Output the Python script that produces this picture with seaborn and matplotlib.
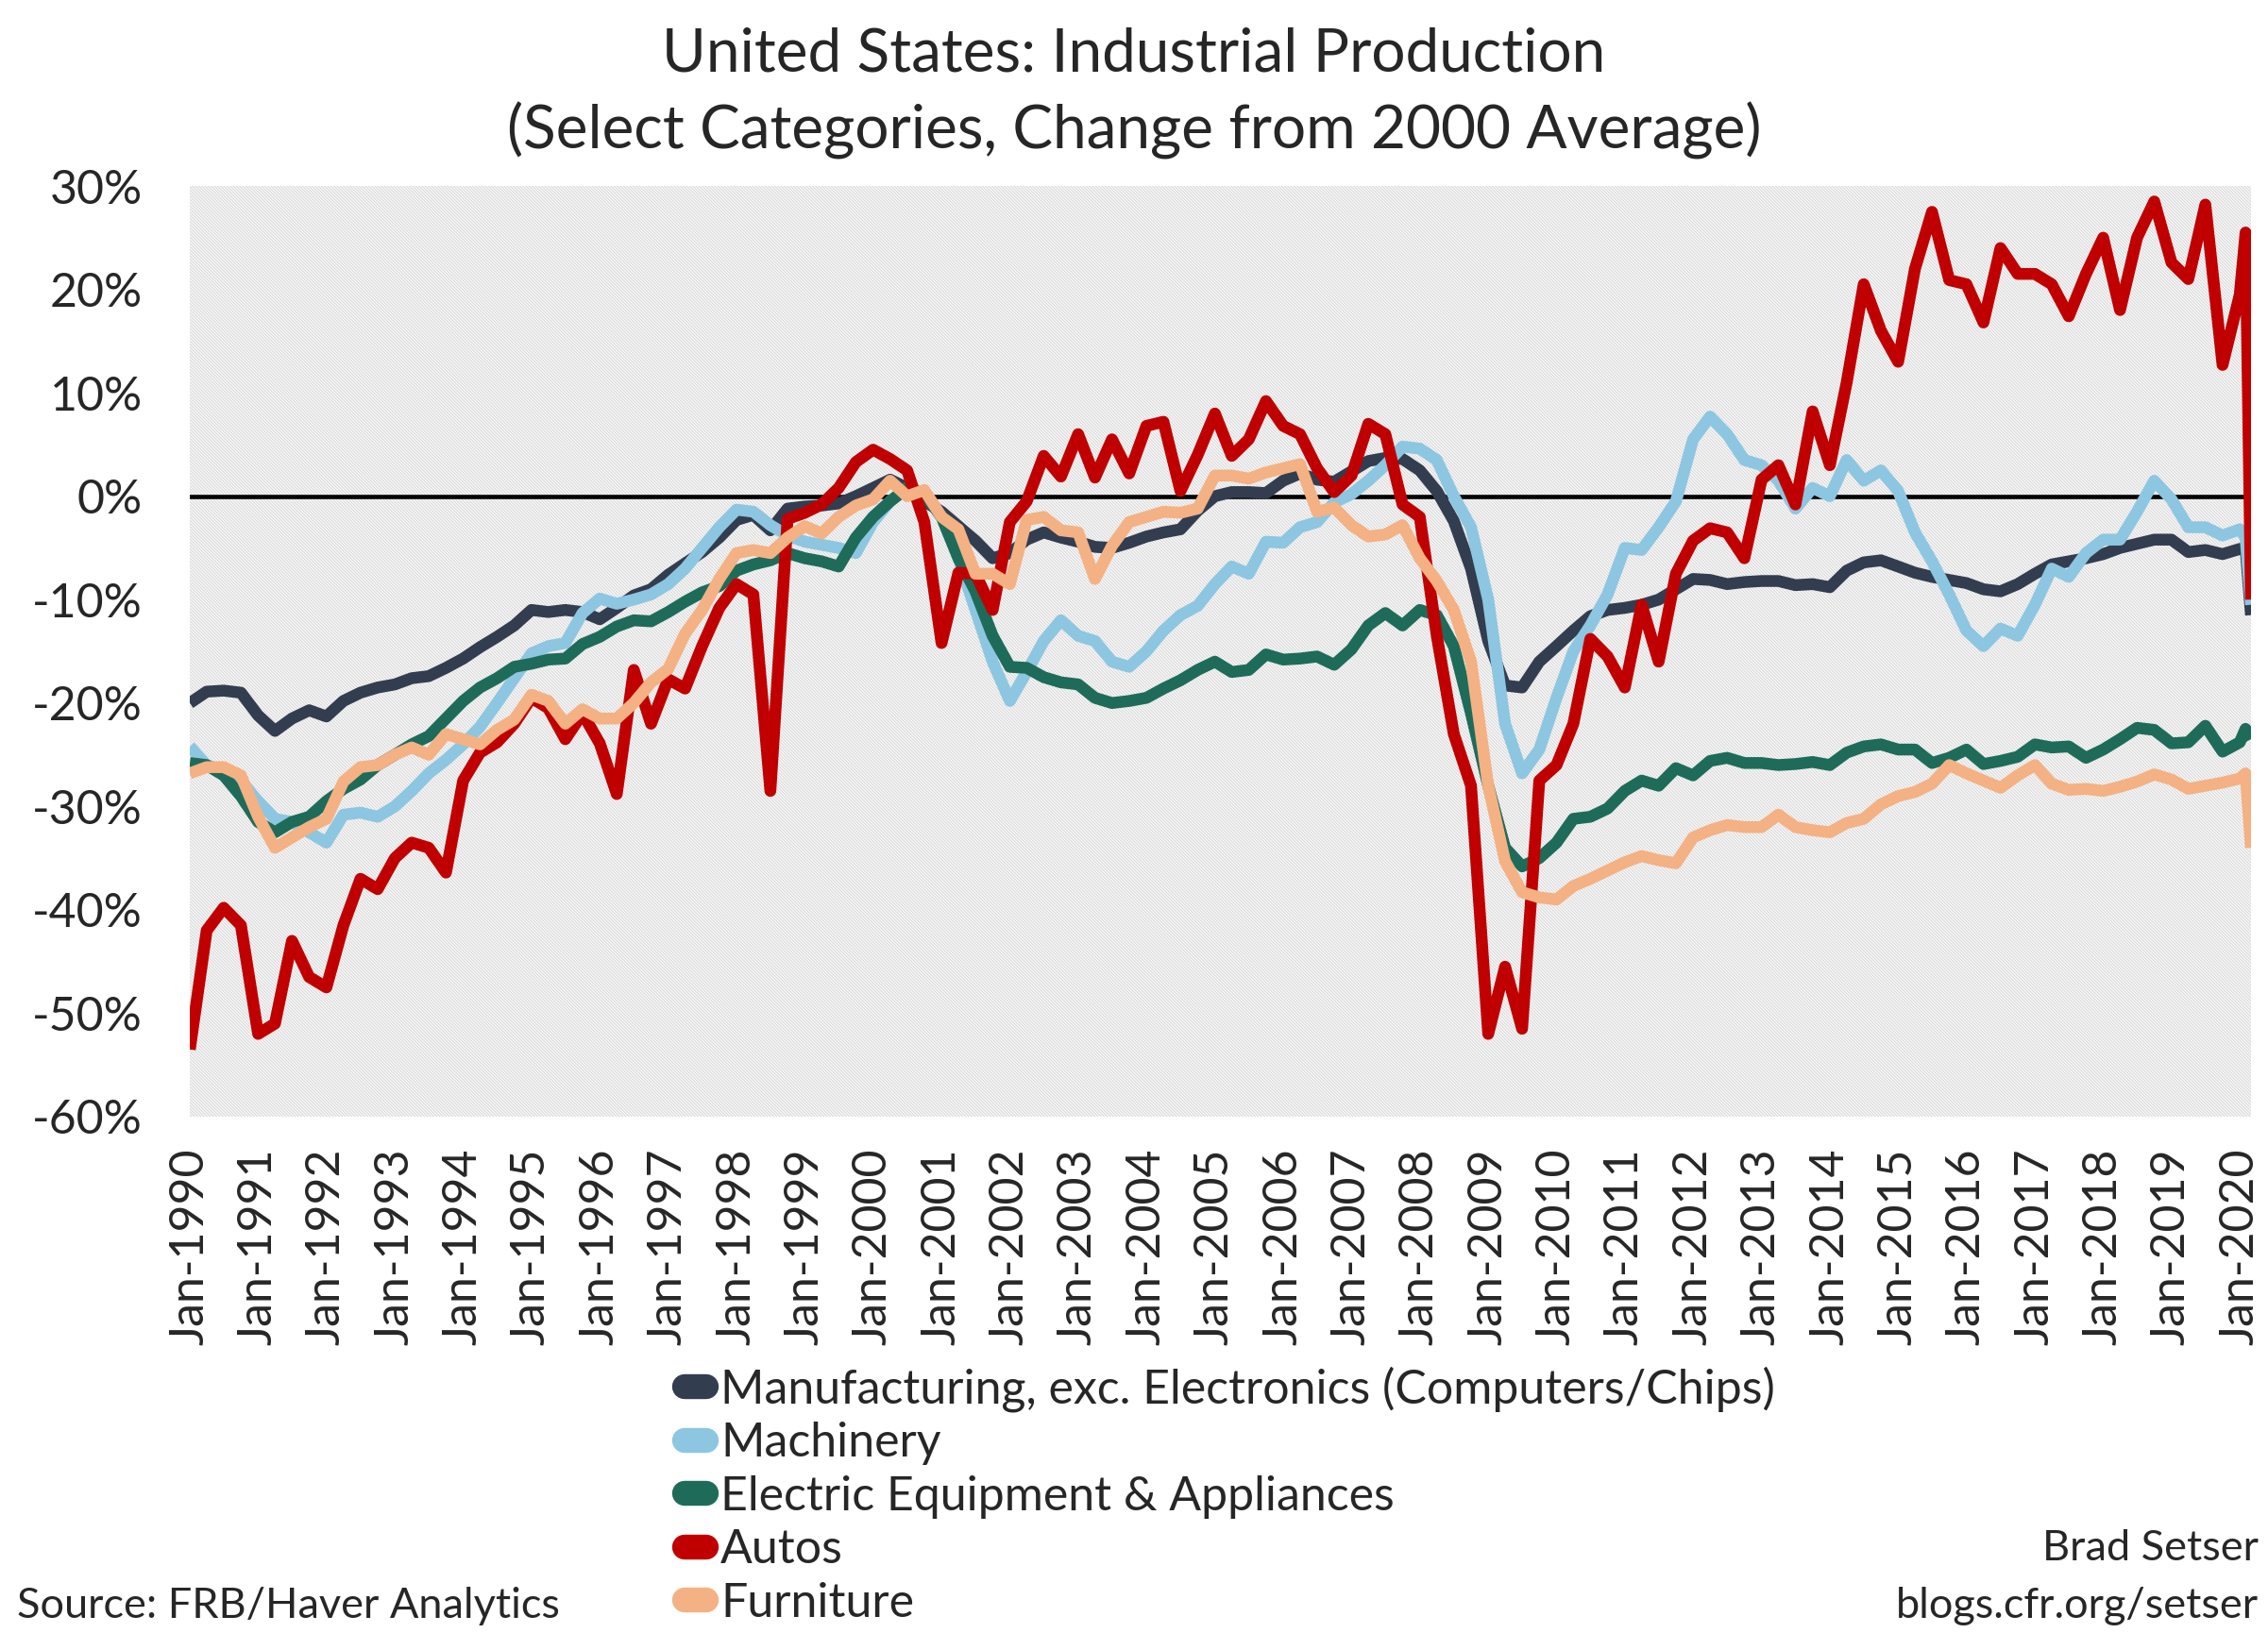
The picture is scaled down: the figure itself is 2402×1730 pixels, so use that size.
import numpy as np
import pandas as pd
import matplotlib.pyplot as plt
import matplotlib.dates as mdates
from matplotlib.lines import Line2D
from matplotlib.patches import Rectangle
import seaborn as sns

# readings taken every quarter (Jan/Apr/Jul/Oct) 1990-2019, then Jan-Mar 2020
dates = list(pd.date_range("1990-01-01", "2019-10-01", freq="QS")) + \
        list(pd.date_range("2020-01-01", "2020-03-01", freq="MS"))

manufacturing = [
    -20, -18.9, -18.8, -19, -21.2, -22.7, -21.5, -20.7, -21.3, -19.8, -19, -18.5,
    -18.2, -17.6, -17.4, -16.6, -15.7, -14.6, -13.6, -12.5, -11, -11.2, -11, -11.2,
    -11.9, -10.8, -9.6, -9, -7.6, -6.5, -5.4, -4, -2.3, -1.8, -3.3, -1.2,
    -1, -0.9, -0.7, 0, 0.8, 1.6, 0.8, -0.5, -1.5, -2.9, -4.3, -6,
    -5.5, -4.2, -3.5, -4, -4.4, -4.9, -5, -4.5, -3.9, -3.5, -3.2, -1.4,
    0, 0.4, 0.4, 0.3, 1.5, 2.2, 1.6, 1.4, 2.4, 3.4, 3.7, 3.6,
    2.5, 0.5, -2.4, -7, -14, -18.3, -18.5, -16, -14.5, -13, -11.6, -11,
    -10.8, -10.5, -10, -9, -8, -8.1, -8.5, -8.3, -8.2, -8.2, -8.6, -8.5,
    -8.8, -7.2, -6.4, -6.2, -6.8, -7.4, -7.8, -8.1, -8.4, -9, -9.2, -8.5,
    -7.5, -6.6, -6.3, -6, -5.6, -5, -4.6, -4.2, -4.2, -5.4, -5.2, -5.6,
    -5.1, -5, -11.5]

machinery = [
    -24.2, -26, -26.5, -27.5, -29.5, -31.2, -31.5, -32.5, -33.5, -30.8, -30.6, -31,
    -30, -28.5, -26.8, -25.5, -24, -22.3, -20, -17.6, -15.2, -14.5, -14.2, -11.3,
    -9.9, -10.4, -10, -9.5, -8.5, -7, -5, -3, -1.3, -1.5, -2.8, -3.8,
    -4.4, -4.7, -5, -5.5, -2.5, -0.5, 0.8, 0.3, -2, -6, -11, -16,
    -19.8, -17, -14, -12, -13.5, -14, -16, -16.5, -15, -13, -11.5, -10.6,
    -8.5, -6.8, -7.5, -4.4, -4.5, -3, -2.5, -0.6, 0.2, 1.5, 3, 4.8,
    4.6, 3.5, 0, -3, -10, -22, -26.8, -24.5, -19.5, -15, -12.5, -9.5,
    -5, -5.2, -3, -0.5, 5.5, 7.7, 6, 3.5, 3, 1.5, -1.2, 0.8,
    0, 3.5, 1.5, 2.5, 0.5, -3.5, -6.3, -9.5, -13, -14.5, -12.8, -13.5,
    -10.5, -7, -7.8, -5.5, -4.2, -4.2, -1.5, 1.5, -0.3, -3, -3, -3.8,
    -3.2, -4, -10.5]

electric = [
    -25.8, -26, -27, -29, -31.5, -32.5, -31.5, -31, -29.5, -28.3, -27.4, -26,
    -25, -24, -23.2, -21.5, -19.8, -18.5, -17.6, -16.5, -16.2, -15.8, -15.7, -14.3,
    -13.6, -12.6, -12, -12.1, -11.2, -10.2, -9.3, -8.7, -7.2, -6.6, -6.2, -5.5,
    -6, -6.3, -6.8, -4, -2, -0.5, 0.8, 0.2, -2, -6, -9.2, -13.5,
    -16.5, -16.6, -17.5, -18, -18.2, -19.5, -20, -19.8, -19.5, -18.6, -17.8, -16.8,
    -16, -17, -16.8, -15.3, -15.8, -15.7, -15.5, -16.3, -14.8, -12.5, -11.3, -12.5,
    -11, -11.5, -14.5, -21, -28, -34, -35.8, -35, -33.5, -31.2, -31, -30.2,
    -28.5, -27.5, -28, -26.3, -27, -25.6, -25.3, -25.8, -25.8, -26, -25.9, -25.7,
    -26, -24.8, -24.2, -24, -24.5, -24.5, -25.8, -25.3, -24.5, -25.9, -25.6, -25.2,
    -24, -24.3, -24.2, -25.3, -24.5, -23.5, -22.4, -22.6, -23.9, -23.8, -22.2, -24.7,
    -23.8, -22.5, -23.5]

autos = [
    -53.5, -42, -39.8, -41.5, -52, -51, -43, -46.5, -47.5, -41.5, -37, -38,
    -35, -33.5, -34, -36.4, -27.5, -24.8, -23.8, -22, -19.5, -20.5, -23.5, -21,
    -23.9, -28.8, -16.8, -22, -17.7, -18.6, -14.5, -10.8, -8.5, -9.5, -28.5, -2.2,
    -1.6, -0.8, 0.8, 3.3, 4.5, 3.6, 2.5, -2.5, -14.2, -7.4, -7.5, -11,
    -2.5, -0.5, 3.9, 1.9, 6, 1.8, 5.5, 2.2, 6.8, 7.2, 0.5, 4,
    8, 3.9, 5.5, 9.2, 6.8, 6, 2.7, 0.4, 2, 7, 6, -0.8,
    -2, -13.5, -23, -28, -52, -45.5, -51.5, -27.5, -26, -22, -13.8, -15.5,
    -18.5, -10.5, -16, -7.5, -4.3, -3.1, -3.5, -6, 1.6, 3, -0.8, 8.2,
    3, 11, 20.5, 16, 13, 22, 27.5, 20.9, 20.5, 16.8, 24, 21.5,
    21.5, 20.5, 17.4, 21.5, 25, 18, 25, 28.5, 22.6, 21, 28.2, 12.7,
    19.5, 25.5, -10]

furniture = [
    -26.8, -26.2, -26.2, -27, -31, -34, -33, -32, -31.2, -27.6, -26.2, -26,
    -25, -24.3, -25, -23, -23.5, -24, -22.6, -21.6, -19.2, -19.8, -22, -20.6,
    -21.5, -21.5, -20, -18, -16.7, -13.3, -11, -8, -5.5, -5.2, -5.5, -4,
    -2.9, -3.6, -2, -0.9, -0.3, 1.5, 0, 0.6, -2, -3.2, -7.5, -7.5,
    -8.5, -2.3, -2, -3.3, -3.5, -8, -4.8, -2.5, -2, -1.5, -1.6, -1.2,
    2, 2, 1.7, 2.3, 2.7, 3.1, -1.5, -1.1, -2.8, -3.9, -3.7, -2.8,
    -6, -8.2, -11, -16, -28, -35.3, -38.3, -38.8, -39, -37.7, -37, -36.2,
    -35.4, -34.8, -35.2, -35.5, -33, -32.3, -31.8, -32, -32, -30.8, -32, -32.3,
    -32.5, -31.6, -31.2, -29.8, -29, -28.6, -27.8, -26, -26.8, -27.5, -28.2, -27,
    -26, -27.8, -28.4, -28.3, -28.5, -28.1, -27.6, -26.9, -27.4, -28.3, -28, -27.7,
    -27.3, -26.8, -34]

labels = ["Manufacturing, exc. Electronics (Computers/Chips)", "Machinery",
          "Electric Equipment & Appliances", "Autos", "Furniture"]
colors = ["#333D50", "#8DC6E0", "#1F6B5A", "#C00000", "#F4B183"]

df = pd.DataFrame({"date": dates, labels[0]: manufacturing, labels[1]: machinery,
                   labels[2]: electric, labels[3]: autos, labels[4]: furniture})
long_df = df.melt(id_vars="date", var_name="series", value_name="value")

sns.set_style("white")
plt.rcParams["font.family"] = ["Lato", "DejaVu Sans"]
plt.rcParams["hatch.linewidth"] = 0.7

fig = plt.figure(figsize=(24.02, 17.30), dpi=100)
ax = fig.add_axes([0.0837, 0.3162, 0.9088, 0.5699])

# hatched grey background
ax.add_patch(Rectangle((0, 0), 1, 1, transform=ax.transAxes, facecolor="#F9F9F9",
                       edgecolor="#D6D6D6", hatch="\\" * 10, linewidth=0, zorder=0))
ax.axhline(0, color="black", linewidth=3.3, zorder=1.5)

sns.lineplot(data=long_df, x="date", y="value", hue="series", hue_order=labels,
             palette=dict(zip(labels, colors)), linewidth=9, legend=False,
             solid_joinstyle="round", solid_capstyle="butt", ax=ax)

ax.set_xlim(pd.Timestamp("1990-01-01"), pd.Timestamp("2020-03-01"))
ax.set_ylim(-60, 30)
ax.set_yticks(range(-60, 31, 10))
ax.set_yticklabels([f"{v}%" for v in range(-60, 31, 10)])
years = pd.date_range("1990-01-01", "2020-01-01", freq="YS")
ax.set_xticks(years)
ax.set_xticklabels([f"Jan-{d.year}" for d in years], rotation=90)
ax.tick_params(axis="both", length=0, labelsize=36)
ax.tick_params(axis="y", pad=36)
ax.tick_params(axis="x", pad=24)
ax.set_xlabel("")
ax.set_ylabel("")
for s in ax.spines.values():
    s.set_visible(False)

fig.text(0.5, 0.967, "United States: Industrial Production", ha="center", va="center", fontsize=46)
fig.text(0.5, 0.920, "(Select Categories, Change from 2000 Average)", ha="center", va="center", fontsize=46)

handles = [Line2D([0], [0], color=c, linewidth=19, solid_capstyle="round") for c in colors]
fig.legend(handles, labels, loc="upper left", bbox_to_anchor=(0.302, 0.1635), frameon=False,
           fontsize=36, handlelength=0.45, handletextpad=0.3, labelspacing=0.21,
           borderpad=0, borderaxespad=0)

fig.text(0.0075, 0.0165, "Source: FRB/Haver Analytics", ha="left", va="center", fontsize=32.5)
fig.text(0.996, 0.0515, "Brad Setser", ha="right", va="center", fontsize=32.5)
fig.text(0.996, 0.0165, "blogs.cfr.org/setser", ha="right", va="center", fontsize=32.5)

fig.savefig("out.png", dpi=100)
